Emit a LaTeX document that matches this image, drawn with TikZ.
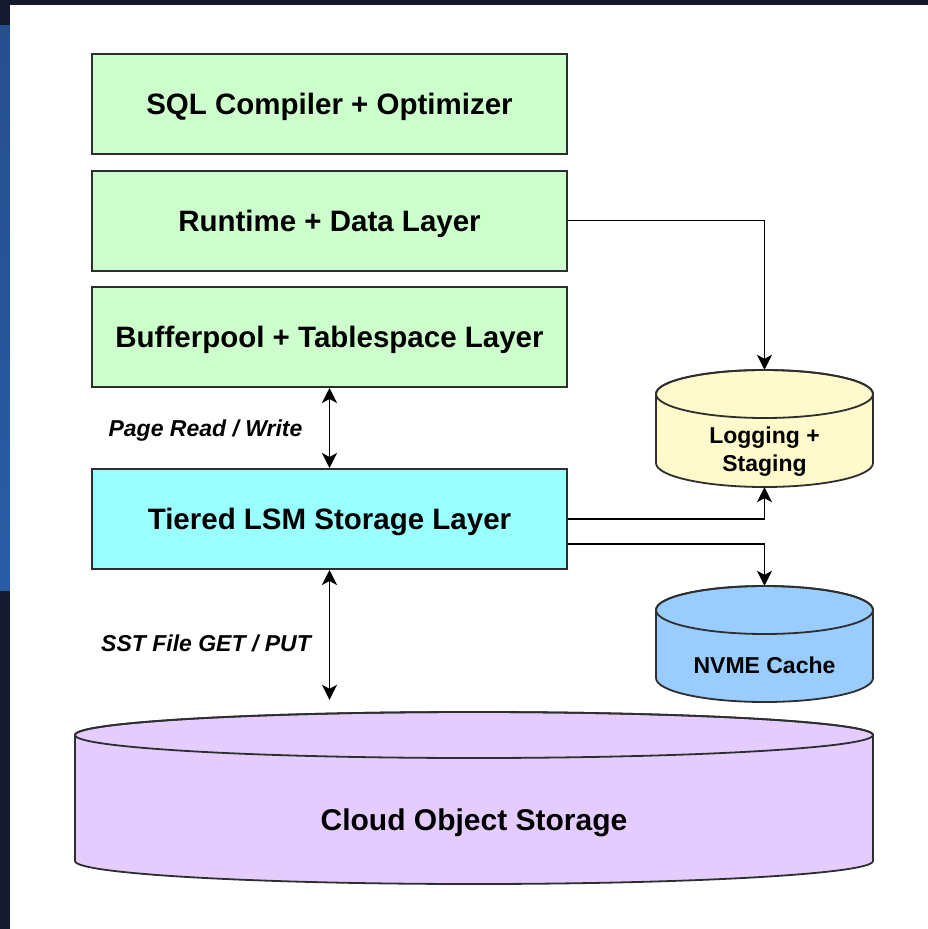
\documentclass[tikz,border=0pt]{standalone}
\usepackage{fontspec}
\setmainfont{Liberation Sans}
\usetikzlibrary{arrows.meta,calc,fit}

\definecolor{navy}{HTML}{15192E}
\definecolor{deskblue}{HTML}{2A5CA6}
\definecolor{edge}{HTML}{2E2E2E}
\definecolor{layergreen}{HTML}{CCFFCC}
\definecolor{layercyan}{HTML}{99FFFF}
\definecolor{logyellow}{HTML}{FFFACC}
\definecolor{nvmeblue}{HTML}{99CCFF}
\definecolor{cloudlilac}{HTML}{E5CCFF}

% drum (cylinder) outline: name, centre x, top, bottom, x radius, y radius, fill
\newcommand\drumshape[7]{%
  \path[fill=#7, draw=edge, line width=1.8pt]
    (#2-#5,#3+#6) -- (#2-#5,#4-#6)
    arc[start angle=180, end angle=360, x radius=#5pt, y radius=#6pt]
    -- (#2+#5,#3+#6)
    arc[start angle=0, end angle=180, x radius=#5pt, y radius=#6pt] -- cycle;
  \draw[edge, line width=1.8pt] (#2,#3+#6) ellipse[x radius=#5pt, y radius=#6pt];
  \node[fit={(#2-#5,#3) (#2+#5,#4)}, inner sep=0pt] (#1) {};
}

\tikzset{
  layer/.style={draw=edge, line width=2pt, minimum width=475pt, minimum height=100pt,
    inner sep=0pt, text depth=0pt, font=\fontsize{29.5}{34}\selectfont\bfseries},
  conn/.style={draw=black, line width=1.8pt,
    -{Stealth[length=15pt,width=15pt,inset=4pt]}},
  biconn/.style={draw=black, line width=1.8pt,
    {Stealth[length=15pt,width=15pt,inset=4pt]}-{Stealth[length=15pt,width=15pt,inset=4pt]}},
  flowlabel/.style={font=\fontsize{23}{26}\selectfont\bfseries\itshape, inner sep=0pt, text depth=0pt},
  drumlabel/.style={font=\fontsize{23}{28}\selectfont\bfseries, align=center, inner sep=0pt},
}

\begin{document}
\begin{tikzpicture}[x=1pt, y=-1pt]
\useasboundingbox (0,0) rectangle (928,929);

% backdrop and page
\fill[navy] (0,0) rectangle (928,929);
\shade[top color=deskblue!80!navy, bottom color=deskblue] (0,25) rectangle (10,590);
\fill[white] (10,5) rectangle (928,929);

% stacked layers
\node[layer, fill=layergreen] (sql) at (329.5,104)   {SQL Compiler + Optimizer};
\node[layer, fill=layergreen] (run) at (329.5,220.5) {Runtime + Data Layer};
\node[layer, fill=layergreen] (buf) at (329.5,337)   {Bufferpool + Tablespace Layer};
\node[layer, fill=layercyan]  (lsm) at (329.5,519)   {Tiered LSM Storage Layer};

% storage drums
\drumshape{log}{764.5}{370}{487}{108.5}{24}{logyellow}
\node[drumlabel] (logtext) at (764.5,452) {Logging +\\Staging};

\drumshape{nvme}{764.5}{586}{702}{108.5}{24}{nvmeblue}
\node[drumlabel, text depth=0pt] (nvmetext) at (764.5,665) {NVME Cache};

\drumshape{cloud}{474}{712}{884}{399}{23}{cloudlilac}
\node[font=\fontsize{30}{34}\selectfont\bfseries, inner sep=0pt, text depth=0pt] (cloudtext) at (474,820) {Cloud Object Storage};

% connectors
\draw[conn] (run.east) -| (log.north);
\draw[conn] (lsm.east) -| (log.south);
\draw[conn] ($(lsm.east)+(0,25)$) -| (nvme.north);
\draw[biconn] (buf.south) -- (lsm.north);
\draw[biconn, shorten >=12pt] (lsm.south) -- (lsm.south |- cloud.north);

% connector labels
\node[flowlabel] (pagelbl) at (205.5,428) {Page Read / Write};
\node[flowlabel] (sstlbl) at (206,643) {SST File GET / PUT};
\end{tikzpicture}
\end{document}
